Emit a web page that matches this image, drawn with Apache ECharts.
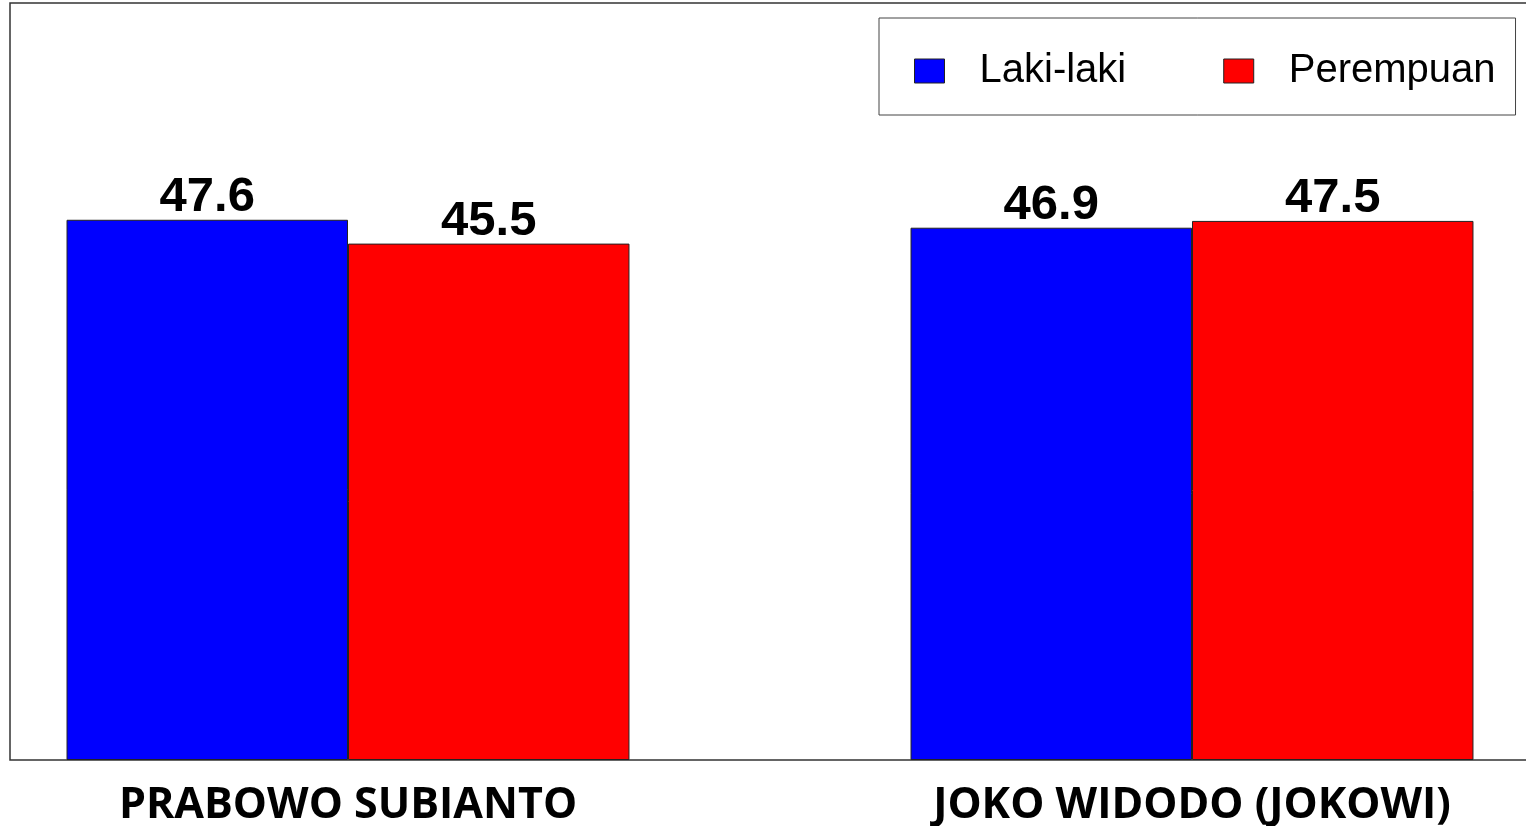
<!DOCTYPE html>
<html>
<head>
<meta charset="utf-8">
<script src="https://cdn.jsdelivr.net/npm/echarts@6/dist/echarts.min.js"></script>
<style>
  html, body { margin: 0; padding: 0; background: #fff; }
  #chart { width: 1526px; height: 826px; }
</style>
</head>
<body>
<div id="chart"></div>
<script>
const categories = ['PRABOWO SUBIANTO', 'JOKO WIDODO (JOKOWI)'];
const seriesNames = ['Laki-laki', 'Perempuan'];
const lakiValues = [47.6, 46.9];
const perempuanValues = [45.5, 47.5];

const chart = echarts.init(document.getElementById('chart'));

function barSeries(name, data, color) {
    return {
        name,
        type: 'bar',
        data,
        barGap: '0%',
        barCategoryGap: '33.3%',
        itemStyle: { color, borderColor: '#222', borderWidth: 1 },
        label: {
            show: true,
            position: 'top',
            distance: -2,
            fontFamily: 'Liberation Sans',
            fontWeight: 'bold',
            fontSize: 49,
            color: '#000'
        }
    };
}

chart.setOption({
    animation: false,
    grid: [
        // plot grid (wider than the page, bars centred as in the picture)
        { left: -74, width: 1688, top: 3, bottom: 66, outerBoundsMode: 'none' },
        // frame box
        { left: 10, width: 1540, top: 3, bottom: 66, show: true, borderColor: '#333', borderWidth: 1.5, outerBoundsMode: 'none' }
    ],
    legend: {
        data: seriesNames,
        left: 879,
        top: 18,
        padding: [33, 20, 24, 35],
        itemWidth: 30,
        itemHeight: 24,
        itemGap: 97,
        borderColor: '#444',
        borderWidth: 1,
        borderRadius: 0,
        icon: 'rect',
        itemStyle: { borderColor: '#222', borderWidth: 1 },
        textStyle: {
            fontFamily: 'Liberation Sans',
            fontSize: 40,
            color: '#000',
            padding: [0, 0, 0, 30]
        }
    },
    xAxis: [
        {
            type: 'category',
            data: categories,
            gridIndex: 0,
            axisLine: { show: false },
            axisTick: { show: false },
            axisLabel: {
                margin: 24,
                fontFamily: 'Open Sans',
                fontWeight: 'bold',
                fontSize: 43,
                color: '#000'
            }
        },
        { type: 'value', gridIndex: 1, show: false }
    ],
    yAxis: [
        { type: 'value', gridIndex: 0, min: 0, max: 66.7, show: false },
        { type: 'value', gridIndex: 1, show: false }
    ],
    series: [
        barSeries(seriesNames[0], lakiValues, '#0000ff'),
        barSeries(seriesNames[1], perempuanValues, '#ff0000')
    ]
});
</script>
</body>
</html>
